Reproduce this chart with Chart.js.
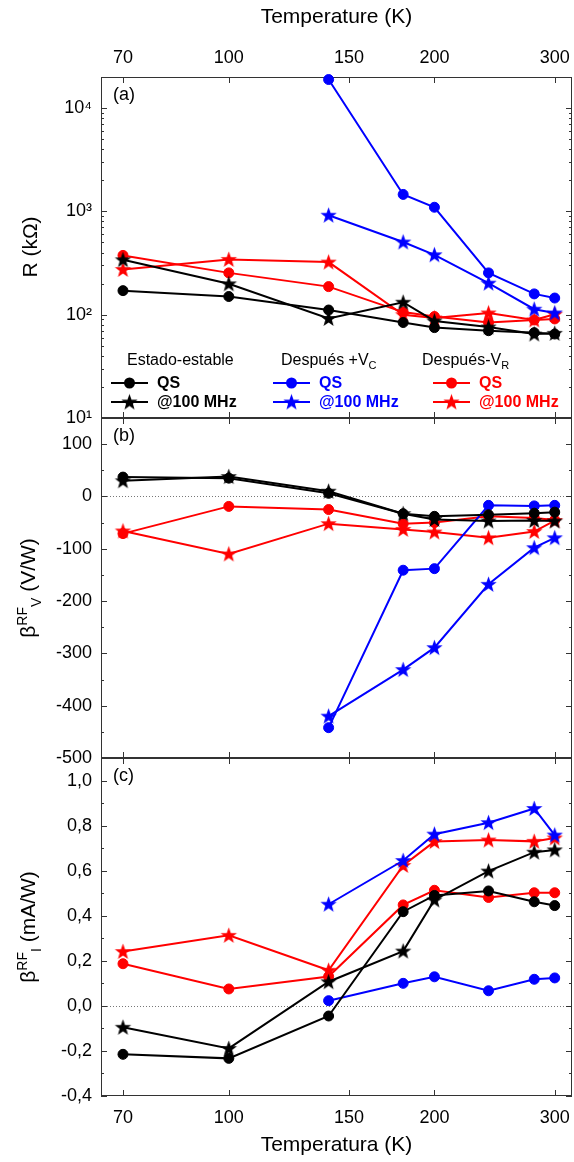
<!DOCTYPE html>
<html lang="es">
<head>
<meta charset="UTF-8">
<title>R y beta RF frente a temperatura</title>
<script src="https://cdn.jsdelivr.net/npm/chart.js"></script>
<style>
  body { margin: 0; background: #fff; font-family: 'Liberation Sans', Arial, sans-serif; }
  #wrap { position: relative; width: 574px; height: 1162px; overflow: hidden; }
  canvas { position: absolute; left: 0; }
  .ytitle {
    position: absolute; white-space: nowrap; font-size: 21px; color: #000; line-height: 1;
    transform: translate(-50%, -50%) rotate(-90deg);
  }
  .ytitle sup, .ytitle sub { font-size: 14px; }
</style>
</head>
<body>
<div id="wrap">
  <canvas id="panelA" width="574" height="431" style="top:0"></canvas>
  <canvas id="panelB" width="574" height="366" style="top:405px"></canvas>
  <canvas id="panelC" width="574" height="417" style="top:745px"></canvas>
  <div class="ytitle" style="left:29px; top:247px">R (kΩ)</div>
  <div class="ytitle" style="left:29px; top:588px">β<sup>RF</sup><sub>V</sub> (V/W)</div>
  <div class="ytitle" style="left:29px; top:927px">β<sup>RF</sup><sub>I</sub> (mA/W)</div>
</div>

<script>
// temperaturas (K) y ticks del eje x
const temps = [70, 100, 140, 180, 200, 240, 280, 300];
const tempTicks = [70, 100, 150, 200, 300];

// (a) R (kOhm)
const rEstQS   = [171, 150, 111, 84, 75, 70, 67, 65];
const rEst100  = [340, 199, 92, 132, 87, 76, 65, 66];
const rVcQS    = [null, null, 18900, 1460, 1097, 254, 159, 145];
const rVc100   = [null, null, 918, 505, 380, 202, 113, 104];
const rVrQS    = [375, 254, 187, 106, 96, 84, 89, 91];
const rVr100   = [274, 343, 323, 100, 93, 104, 89, 101];
const rTicks = [10, 100, 1000, 10000];
const rTickLabels = ['10¹', '10²', '10³', '10⁴'];

// (b) beta RF V (V/W)
const bvEstQS  = [37, 35, 6, -33, -38, -35, -32, -30];
const bvEst100 = [30, 38, 10, -33, -44, -47, -46, -47];
const bvVcQS   = [null, null, -442, -141, -138, -17, -18, -17];
const bvVc100  = [null, null, -420, -331, -289, -168, -98, -79];
const bvVrQS   = [-71, -19, -25, -52, -50, -38, -41, -45];
const bvVr100  = [-66, -110, -52, -63, -68, -79, -67, -46];
const bvTicks = [100, 0, -100, -200, -300, -400, -500];

// (c) beta RF I (mA/W)
const biEstQS  = [-0.215, -0.233, -0.045, 0.418, 0.49, 0.51, 0.462, 0.445];
const biEst100 = [-0.095, -0.189, 0.107, 0.243, 0.47, 0.598, 0.682, 0.692];
const biVcQS   = [null, null, 0.023, 0.10, 0.129, 0.067, 0.118, 0.124];
const biVc100  = [null, null, 0.451, 0.645, 0.762, 0.813, 0.876, 0.758];
const biVrQS   = [0.187, 0.075, 0.13, 0.448, 0.513, 0.481, 0.502, 0.502];
const biVr100  = [0.241, 0.313, 0.158, 0.623, 0.729, 0.736, 0.73, 0.745];
const biTicks = [1.0, 0.8, 0.6, 0.4, 0.2, 0.0, -0.2, -0.4];

const groupNames = ['Estado-estable', 'Después +V', 'Después-V'];
const groupSubs = ['', 'C', 'R'];
const entryNames = ['QS', '@100 MHz'];

const BLACK = '#000000', BLUE = '#0000ff', RED = '#ff0000';
const FONT = "'Liberation Sans', Arial, sans-serif";
const tickFont = { family: FONT, size: 18 };
const titleFont = { family: FONT, size: 21 };

// estrella rellena de 5 puntas como pointStyle
function starImage(color) {
    const c = document.createElement('canvas');
    c.width = 19; c.height = 19;
    const g = c.getContext('2d');
    g.fillStyle = color;
    g.beginPath();
    for (let i = 0; i < 10; i++) {
        const r = i % 2 ? 3.5 : 8.6;
        const a = -Math.PI / 2 + i * Math.PI / 5;
        g.lineTo(9.5 + r * Math.cos(a), 10 + r * Math.sin(a));
    }
    g.closePath();
    g.fill();
    return c;
}
const stars = { [BLACK]: starImage(BLACK), [BLUE]: starImage(BLUE), [RED]: starImage(RED) };

function series(vals, color, star) {
    return {
        data: temps.map((t, i) => ({ x: t, y: vals[i] })),
        borderColor: color,
        backgroundColor: color,
        borderWidth: 2,
        pointStyle: star ? stars[color] : 'circle',
        pointRadius: 5,
        pointBorderWidth: 1,
        pointHoverRadius: 5,
        clip: false
    };
}

function xScale(position, display, title, height, pad, titlePad) {
    return {
        type: 'logarithmic', min: 65, max: 318, position: position, display: display,
        grid: { display: false, drawTicks: false },
        border: { display: false },
        afterBuildTicks: s => { s.ticks = tempTicks.map(v => ({ value: v })); },
        afterFit: s => { s.height = height; s.paddingLeft = 0; s.paddingRight = 0; },
        ticks: { autoSkip: false, maxRotation: 0, padding: pad, color: '#000', font: tickFont, callback: v => String(v) },
        title: { display: !!title, text: title, color: '#000', font: titleFont, padding: titlePad }
    };
}

function yScale(type, min, max, ticks, fmt) {
    return {
        type: type, min: min, max: max, position: 'left',
        grid: { display: false, drawTicks: false },
        border: { display: false },
        afterBuildTicks: s => { s.ticks = ticks.map(v => ({ value: v })); },
        afterFit: s => { s.width = 101; s.paddingTop = 0; s.paddingBottom = 0; },
        ticks: { autoSkip: false, padding: 9, color: '#000', font: tickFont, callback: fmt }
    };
}

// marco, ticks hacia dentro, linea de cero punteada y etiqueta del panel
function framePlugin(major, minor, zero, label) {
    return {
        id: 'frame',
        beforeDatasetsDraw(chart) {
            const { ctx, chartArea: a, scales } = chart;
            const x = scales.x, y = scales.y;
            ctx.save();
            if (zero) {
                const yz = Math.round(y.getPixelForValue(0)) + 0.5;
                ctx.strokeStyle = '#777';
                ctx.lineWidth = 1;
                ctx.setLineDash([1, 2]);
                ctx.beginPath(); ctx.moveTo(a.left, yz); ctx.lineTo(a.right, yz); ctx.stroke();
                ctx.setLineDash([]);
            }
            ctx.strokeStyle = '#333';
            ctx.lineWidth = 1;
            ctx.strokeRect(a.left + 0.5, a.top + 0.5, a.right - a.left - 1, a.bottom - a.top - 1);
            ctx.beginPath();
            tempTicks.forEach(v => {
                const px = Math.round(x.getPixelForValue(v)) + 0.5;
                ctx.moveTo(px, a.top); ctx.lineTo(px, a.top + 6);
                ctx.moveTo(px, a.bottom); ctx.lineTo(px, a.bottom - 6);
            });
            const yt = (v, len) => {
                const py = Math.round(y.getPixelForValue(v)) + 0.5;
                ctx.moveTo(a.left, py); ctx.lineTo(a.left + len, py);
                ctx.moveTo(a.right, py); ctx.lineTo(a.right - len, py);
            };
            major.forEach(v => yt(v, 6));
            minor.forEach(v => yt(v, 3));
            ctx.stroke();
            ctx.fillStyle = '#000';
            ctx.font = '18px ' + FONT;
            ctx.textBaseline = 'middle';
            ctx.fillText(label, a.left + 12, a.top + 18);
            ctx.restore();
        }
    };
}

const legendPlugin = {
    id: 'legendBox',
    afterDatasetsDraw(chart) {
        const { ctx, chartArea: a } = chart;
        const colors = [BLACK, BLUE, RED];
        const headX = [26, 180, 321];
        const lineX = [10, 172, 332];
        const rowY = [a.bottom - 35, a.bottom - 16];
        ctx.save();
        ctx.textBaseline = 'middle';
        colors.forEach((c, g) => {
            const hx = a.left + headX[g], hy = a.bottom - 57;
            ctx.fillStyle = '#000';
            ctx.font = '16px ' + FONT;
            ctx.fillText(groupNames[g], hx, hy);
            if (groupSubs[g]) {
                const w = ctx.measureText(groupNames[g]).width;
                ctx.font = '11px ' + FONT;
                ctx.fillText(groupSubs[g], hx + w, hy + 5);
            }
            entryNames.forEach((name, r) => {
                const lx = a.left + lineX[g], ly = rowY[r];
                ctx.strokeStyle = c; ctx.lineWidth = 2;
                ctx.beginPath(); ctx.moveTo(lx, ly); ctx.lineTo(lx + 37, ly); ctx.stroke();
                if (r === 0) {
                    ctx.fillStyle = c;
                    ctx.beginPath(); ctx.arc(lx + 18.5, ly, 5.5, 0, Math.PI * 2); ctx.fill();
                } else {
                    const img = stars[c];
                    ctx.drawImage(img, lx + 18.5 - img.width / 2, ly - img.height / 2);
                }
                ctx.fillStyle = c;
                ctx.font = 'bold 16px ' + FONT;
                ctx.fillText(name, lx + 46, ly + 1);
            });
        });
        ctx.restore();
    }
};

function minorLog() {
    const out = [];
    rTicks.forEach(d => { for (let m = 2; m <= 9; m++) if (m * d <= 20000) out.push(m * d); });
    return out;
}
function minorStep(lo, hi, step) {
    const out = [];
    for (let v = lo; v <= hi + 1e-9; v += step) out.push(Math.round(v * 100) / 100);
    return out;
}

const common = {
    responsive: false,
    animation: false,
    events: [],
    plugins: { legend: { display: false }, tooltip: { enabled: false } }
};

new Chart(document.getElementById('panelA'), {
    type: 'line',
    data: { datasets: [
        series(rEstQS, BLACK, false), series(rEst100, BLACK, true),
        series(rVcQS, BLUE, false), series(rVc100, BLUE, true),
        series(rVrQS, RED, false), series(rVr100, RED, true)
    ] },
    options: Object.assign({}, common, {
        layout: { autoPadding: false, padding: { top: 0, right: 2, bottom: 13, left: 0 } },
        scales: {
            x: xScale('top', true, 'Temperature (K)', 77, 8, { top: 5, bottom: 0 }),
            y: yScale('logarithmic', 10, 20000, rTicks, (v) => rTickLabels[rTicks.indexOf(v)] || '')
        }
    }),
    plugins: [framePlugin(rTicks, minorLog(), false, '(a)'), legendPlugin]
});

new Chart(document.getElementById('panelB'), {
    type: 'line',
    data: { datasets: [
        series(bvEstQS, BLACK, false), series(bvEst100, BLACK, true),
        series(bvVcQS, BLUE, false), series(bvVc100, BLUE, true),
        series(bvVrQS, RED, false), series(bvVr100, RED, true)
    ] },
    options: Object.assign({}, common, {
        layout: { autoPadding: false, padding: { top: 13, right: 2, bottom: 13, left: 0 } },
        scales: {
            x: xScale('bottom', false, '', 0, 0, 0),
            y: yScale('linear', -500, 150, bvTicks, v => String(v))
        }
    }),
    plugins: [framePlugin(bvTicks, minorStep(-450, 150, 100), true, '(b)')]
});

new Chart(document.getElementById('panelC'), {
    type: 'line',
    data: { datasets: [
        series(biEstQS, BLACK, false), series(biEst100, BLACK, true),
        series(biVcQS, BLUE, false), series(biVc100, BLUE, true),
        series(biVrQS, RED, false), series(biVr100, RED, true)
    ] },
    options: Object.assign({}, common, {
        layout: { autoPadding: false, padding: { top: 13, right: 2, bottom: 0, left: 0 } },
        scales: {
            x: xScale('bottom', true, 'Temperatura (K)', 66, 11, { top: 0, bottom: 4 }),
            y: yScale('linear', -0.4, 1.1, biTicks, v => v.toFixed(1).replace('.', ','))
        }
    }),
    plugins: [framePlugin(biTicks, minorStep(-0.3, 1.1, 0.2), true, '(c)')]
});
</script>
</body>
</html>
